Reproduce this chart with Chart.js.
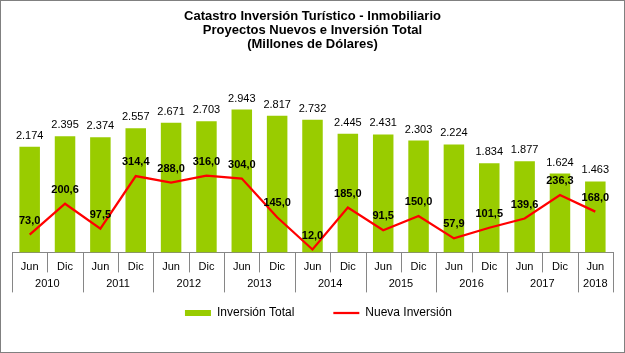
<!DOCTYPE html>
<html lang="es">
<head>
<meta charset="utf-8">
<title>Catastro Inversión Turístico - Inmobiliario</title>
<script src="https://cdn.jsdelivr.net/npm/chart.js@4.4.1/dist/chart.umd.min.js"></script>
<style>
  html, body { margin: 0; padding: 0; background: #fff; }
  .frame { width: 625px; height: 353px; box-sizing: border-box; border: 1px solid #808080; }
  canvas { display: block; }
</style>
</head>
<body>
<div class="frame"><canvas id="chart" width="623" height="351"></canvas></div>
<script>
// ─── Data (millones de dólares) ───
const periods = ['Jun', 'Dic', 'Jun', 'Dic', 'Jun', 'Dic', 'Jun', 'Dic', 'Jun',
                 'Dic', 'Jun', 'Dic', 'Jun', 'Dic', 'Jun', 'Dic', 'Jun'];
const years = ['2010', '2011', '2012', '2013', '2014', '2015', '2016', '2017', '2018'];
const inversionTotal = [2174, 2395, 2374, 2557, 2671, 2703, 2943, 2817, 2732,
                        2445, 2431, 2303, 2224, 1834, 1877, 1624, 1463];
const nuevaInversion = [73.0, 200.6, 97.5, 314.4, 288.0, 316.0, 304.0, 145.0, 12.0,
                        185.0, 91.5, 150.0, 57.9, 101.5, 139.6, 236.3, 168.0];

const FONT = '"Liberation Sans", Arial, sans-serif';
const GRAY = '#868686';

// each year holds a Jun + Dic pair
const yearOf = i => Math.floor(i / 2);
const yearCenters = years.map((_, y) => {
  const idx = periods.map((_, i) => i).filter(i => yearOf(i) === y);
  return (idx[0] + idx[idx.length - 1]) / 2;
});

const fmtMiles = v => String(v).replace(/\B(?=(\d{3})+(?!\d))/g, '.');
const fmtDecimal = v => v.toFixed(1).replace('.', ',');

Chart.defaults.font.family = FONT;
Chart.defaults.color = '#000';

// value labels over bars and line points
const valueLabels = {
  id: 'valueLabels',
  afterDatasetsDraw(chart) {
    const ctx = chart.ctx;
    ctx.save();
    ctx.textAlign = 'center';
    ctx.textBaseline = 'middle';
    ctx.fillStyle = '#000';
    ctx.font = '11px ' + FONT;
    chart.getDatasetMeta(0).data.forEach((bar, i) => {
      ctx.fillText(fmtMiles(inversionTotal[i]), bar.x, bar.y - 11);
    });
    ctx.font = 'bold 11px ' + FONT;
    chart.getDatasetMeta(1).data.forEach((pt, i) => {
      ctx.fillText(fmtDecimal(nuevaInversion[i]), pt.x, pt.y - 14);
    });
    ctx.restore();
  }
};

// short dividers between periods, long ones between years
const categoryDividers = {
  id: 'categoryDividers',
  afterDraw(chart) {
    const x = chart.scales.x;
    const ctx = chart.ctx;
    ctx.save();
    ctx.strokeStyle = GRAY;
    ctx.lineWidth = 1;
    ctx.beginPath();
    for (let k = 0; k <= periods.length; k++) {
      const px = Math.round(x.getPixelForValue(k - 0.5)) + 0.5;
      const yearEdge = k === 0 || k === periods.length || yearOf(k) !== yearOf(k - 1);
      ctx.moveTo(px, x.top);
      ctx.lineTo(px, x.top + (yearEdge ? 40 : 20));
    }
    ctx.stroke();
    ctx.restore();
  }
};

// legend sits a bit higher and to the right, as in the original sheet
const legendNudge = {
  id: 'legendNudge',
  afterLayout(chart) {
    const lg = chart.legend;
    lg.top -= 23; lg.bottom -= 23;
    lg.left += 6; lg.right += 6;
  }
};

new Chart(document.getElementById('chart'), {
  data: {
    labels: periods,
    datasets: [
      {
        type: 'bar',
        label: 'Inversión Total',
        data: inversionTotal,
        backgroundColor: '#99cc00',
        borderWidth: 0,
        barPercentage: 0.58,
        categoryPercentage: 1,
        yAxisID: 'y',
        pointStyle: 'rect',
        order: 1,
      },
      {
        type: 'line',
        label: 'Nueva Inversión',
        data: nuevaInversion,
        borderColor: '#ff0000',
        backgroundColor: '#ff0000',
        borderWidth: 2.25,
        pointRadius: 0,
        tension: 0,
        yAxisID: 'y1',
        pointStyle: 'line',
        order: 0,
      },
    ],
  },
  options: {
    responsive: false,
    animation: false,
    layout: { padding: { left: 11, right: 11, bottom: 0 } },
    scales: {
      x: {
        type: 'category',
        weight: 0,
        grid: { display: false, drawTicks: false },
        border: { display: true, color: GRAY, width: 1 },
        ticks: { padding: 8, font: { size: 11 }, maxRotation: 0, autoSkip: false },
        // keep the year row tight under the period row
        afterFit: scale => { scale.height = 25.4; },
      },
      x2: {
        type: 'linear',
        position: 'bottom',
        weight: 1,
        min: -0.5,
        max: periods.length - 0.5,
        grid: { display: false, drawTicks: false },
        border: { display: false },
        afterBuildTicks: scale => { scale.ticks = yearCenters.map(v => ({ value: v })); },
        ticks: {
          padding: 0,
          font: { size: 11 },
          autoSkip: false,
          maxRotation: 0,
          callback: (value, index) => years[index],
        },
      },
      y: { display: false, min: 0, max: 3500 },
      y1: { display: false, min: 0, max: 700 },
    },
    plugins: {
      tooltip: { enabled: false },
      title: {
        display: true,
        text: ['Catastro Inversión Turístico - Inmobiliario',
               'Proyectos Nuevos e Inversión Total',
               '(Millones de Dólares)'],
        color: '#000',
        font: { family: '"Liberation Sans Narrow", "Liberation Sans", Arial, sans-serif',
                size: 13, weight: 'bold', lineHeight: 14 / 13 },
        padding: { top: 8, bottom: 31.5 },
      },
      legend: {
        position: 'bottom',
        labels: {
          usePointStyle: true,
          pointStyleWidth: 26,
          boxHeight: 6,
          padding: 39,
          font: { size: 12 },
          color: '#000',
          sort: (a, b) => a.datasetIndex - b.datasetIndex,
        },
      },
    },
  },
  plugins: [valueLabels, categoryDividers, legendNudge],
});
</script>
</body>
</html>
